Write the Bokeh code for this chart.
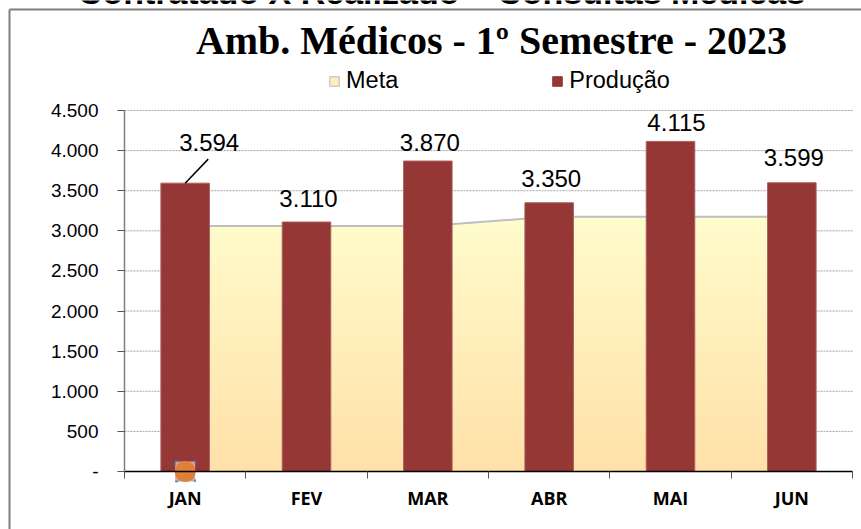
from bokeh.plotting import figure
from bokeh.models import ColumnDataSource, FixedTicker, Label, Range1d, Arrow
from bokeh.core.properties import value
from bokeh.embed import file_html
from bokeh.resources import INLINE

months = ["JAN", "FEV", "MAR", "ABR", "MAI", "JUN"]
producao = [3594, 3110, 3870, 3350, 4115, 3599]
meta = [3060, 3060, 3060, 3175, 3175, 3175]
prod_labels = ["3.594", "3.110", "3.870", "3.350", "4.115", "3.599"]
y_ticks = [0, 500, 1000, 1500, 2000, 2500, 3000, 3500, 4000, 4500]
y_labels = ["-", "500", "1.000", "1.500", "2.000", "2.500", "3.000", "3.500", "4.000", "4.500"]
label_dx = [24, 2, 2, 2, 6, 2]
label_dy = [41, 24, 19, 24, 19, 25]

W, H = 861, 529
LEFT, RIGHT, TOP, AXIS_Y = 124, 852, 110, 471
x_px = (RIGHT - LEFT) / len(months)
y_px = 4500 / (AXIS_Y - TOP)

x = [i + 0.5 for i in range(len(months))]

p = figure(width=W, height=H, output_backend="svg", toolbar_location=None,
           x_range=Range1d(-LEFT / x_px, 6 + (W - RIGHT) / x_px),
           y_range=Range1d(-(H - AXIS_Y) * y_px, 4500 + TOP * y_px),
           min_border=0, margin=(0, 0, 0, 0), background_fill_color="white",
           border_fill_color="white", outline_line_color=None)

p.xgrid.visible = False
p.ygrid.visible = False
grid_y = y_ticks[1:]
p.segment(x0=[0] * len(grid_y), x1=[len(months)] * len(grid_y), y0=grid_y, y1=grid_y,
          line_color="#a6a6a6", line_dash="2 1", line_width=1, level="underlay")

p.yaxis.fixed_location = 0
p.yaxis.bounds = (0, 4500)
p.yaxis.ticker = FixedTicker(ticks=y_ticks)
p.yaxis.major_label_overrides = dict(zip(y_ticks, y_labels))
p.yaxis.axis_line_color = "#7f7f7f"
p.yaxis.axis_line_width = 1.5
p.yaxis.major_tick_line_color = "#555555"
p.yaxis.major_tick_out = 7
p.yaxis.major_tick_in = 0
p.yaxis.minor_tick_line_color = None
p.yaxis.major_label_text_font = "Liberation Sans"
p.yaxis.major_label_text_font_size = "19px"
p.yaxis.major_label_text_color = "black"
p.yaxis.major_label_standoff = 19

p.xaxis.fixed_location = 0
p.xaxis.bounds = (0, 6)
p.xaxis.ticker = FixedTicker(ticks=x, minor_ticks=list(range(len(months) + 1)))
p.xaxis.major_label_overrides = dict(zip(x, months))
p.xaxis.axis_line_color = "black"
p.xaxis.axis_line_width = 1.5
p.xaxis.major_tick_line_color = None
p.xaxis.major_tick_out = 0
p.xaxis.major_tick_in = 0
p.xaxis.minor_tick_line_color = "#555555"
p.xaxis.minor_tick_out = 7
p.xaxis.minor_tick_in = 0
p.xaxis.major_label_text_font = "Open Sans"
p.xaxis.major_label_text_font_style = "bold"
p.xaxis.major_label_text_font_size = "18px"
p.xaxis.major_label_text_color = "black"
p.xaxis.major_label_standoff = 7

# gradient area: painted from the tallest band down, so no seams show
GRAD_TOP = (255, 252, 204)
GRAD_BOT = (255, 224, 168)
N = 60
m_max = max(meta)
for k in range(N, 0, -1):
    hi = m_max * k / N
    t = (k - 0.5) / N
    col = tuple(round(GRAD_BOT[c] + (GRAD_TOP[c] - GRAD_BOT[c]) * t) for c in range(3))
    p.varea(x=x, y1=[0] * len(x), y2=[min(m, hi) for m in meta], fill_color="#%02x%02x%02x" % col)
p.line(x=x, y=meta, line_color="#bfbfbf", line_width=2)

src = ColumnDataSource(dict(x=x, top=producao, txt=prod_labels, dx=label_dx, dy=[-d for d in label_dy]))
p.vbar(x="x", top="top", bottom=0, width=0.4, source=src, fill_color="#953735", line_color="#a9605e", line_width=1)

p.segment(x0=[x[0]], y0=[producao[0]], x1=[x[0] + 0.19], y1=[producao[0] + 300], line_color="black", line_width=1.5)

p.text(x="x", y="top", text="txt", source=src, x_offset="dx", y_offset="dy",
       text_align="center", text_baseline="middle",
       text_font=value("Liberation Sans"), text_font_size="24px", text_color="black")

p.scatter(x=[x[0]], y=[0], size=20, marker="square", fill_color="#d9a3a3", line_color="#3f8fb0",
          line_width=1.5, line_dash="3 16")
p.scatter(x=[x[0]], y=[0], size=21, marker="circle", fill_color="#dd8139", line_color=None)

# the frame fills the canvas: screen coordinates count from the lower left corner
def sy(py):
    return H - py

p.add_layout(Label(x=491, y=sy(40), x_units="screen", y_units="screen",
                   text="Amb. Médicos - 1º Semestre - 2023", text_align="center", text_baseline="middle",
                   text_font="Liberation Serif", text_font_style="bold", text_font_size="40px", text_color="black"))
p.add_layout(Label(x=441, y=sy(-9), x_units="screen", y_units="screen",
                   text="Contratado X Realizado – Consultas Médicas", text_align="center", text_baseline="alphabetic",
                   text_font="Liberation Sans", text_font_style="bold", text_font_size="34px", text_color="black"))

p.quad(left=[0], right=[0], top=[0], bottom=[0], legend_label="Meta", fill_color="#ffeeb8", line_color="#cccccc", line_width=1.5)
p.quad(left=[0], right=[0], top=[0], bottom=[0], legend_label="Produção", fill_color="#953735", line_color="#953735")
lg = p.legend[0]
lg.orientation = "horizontal"
lg.location = (328, sy(94))
lg.border_line_color = None
lg.background_fill_alpha = 0
lg.label_text_font = "Liberation Sans"
lg.label_text_font_size = "23.5px"
lg.label_text_color = "black"
lg.glyph_width = 12
lg.glyph_height = 12
lg.spacing = 153
lg.padding = 0
lg.label_standoff = 6
lg.margin = 0

for a, b, c, d in [(9, 9, 9, H), (9, 9, W, 9)]:
    p.add_layout(Arrow(end=None, x_start=a, y_start=sy(b), x_end=c, y_end=sy(d),
                       start_units="screen", end_units="screen",
                       line_color="#7f7f7f", line_width=2))

open("out.html", "w").write(file_html(p, INLINE))
